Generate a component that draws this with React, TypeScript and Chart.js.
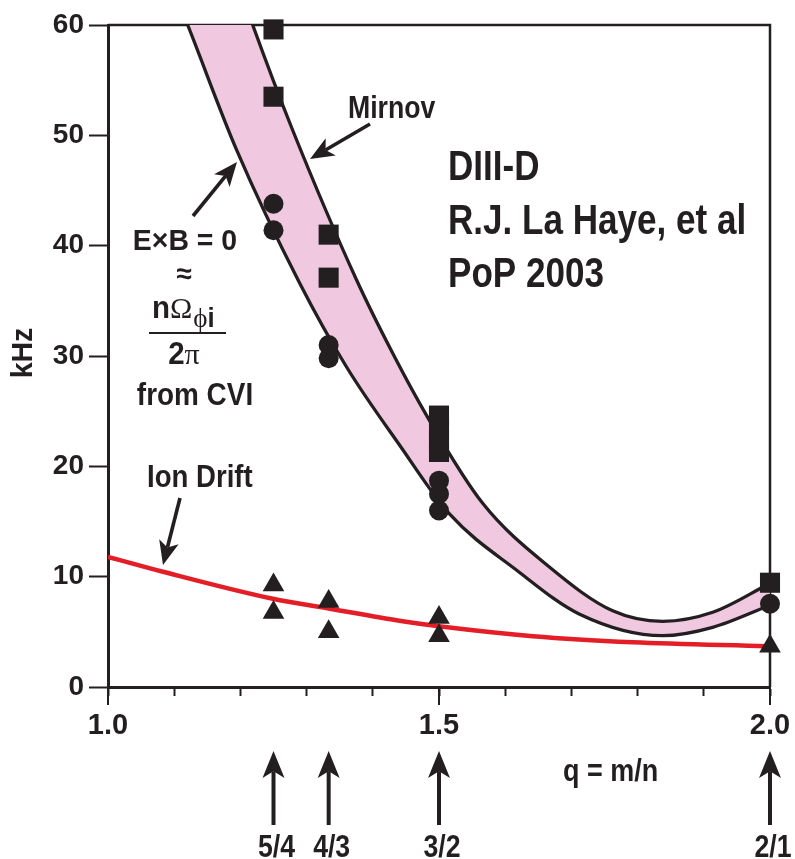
import React, { useEffect, useRef } from 'react';
import { Chart, registerables } from 'chart.js';

Chart.register(...registerables);

// ---------- data ----------
// Mirnov (upper edge of band), q and kHz (first two lie above the 60 kHz frame)
const Q_MIRNOV = [1.099, 1.158, 1.2186, 1.279, 1.3757, 1.4301, 1.4829, 1.566, 1.6672, 1.7624, 1.8379, 1.9134, 2.0];
const F_MIRNOV = [81.5, 70.5, 60.0, 50.46, 36.86, 30.24, 24.44, 16.65, 10.85, 6.9, 5.95, 6.77, 9.4];
// E x B = 0 from CVI (lower edge of band)
const Q_EXB = [1.099, 1.1204, 1.1944, 1.2896, 1.3606, 1.4406, 1.5162, 1.6174, 1.7125, 1.8379, 1.9134, 2.0];
const F_EXB = [63.2, 60.0, 48.66, 36.6, 28.98, 21.91, 15.66, 10.58, 6.59, 4.65, 5.41, 7.41];
// Ion drift (red)
const Q_ION = [1.0, 1.083, 1.249, 1.335, 1.44, 1.5, 1.642, 1.793, 1.995];
const F_ION = [11.8, 10.45, 8.0, 7.1, 6.0, 5.5, 4.6, 4.05, 3.7];
// measured points
const Q_SQUARES = [1.25, 1.25, 1.3333, 1.3333, 1.5, 1.5, 1.5, 1.5, 2.0];
const F_SQUARES = [59.6, 53.5, 41.0, 37.1, 24.6, 23.4, 22.4, 21.3, 9.45];
const Q_CIRCLES = [1.25, 1.25, 1.3333, 1.3333, 1.5, 1.5, 1.5, 2.0];
const F_CIRCLES = [43.8, 41.4, 31.0, 29.8, 18.7, 17.5, 16.0, 7.55];
const Q_TRIANGLES = [1.25, 1.25, 1.3333, 1.3333, 1.5, 1.5, 2.0];
const F_TRIANGLES = [9.25, 6.75, 7.75, 5.0, 6.3, 4.65, 3.7];
// axes
const MAJOR_Q = [1.0, 1.5, 2.0];
const MAJOR_Q_LABELS = ['1.0', '1.5', '2.0'];
const RATIONAL_Q = [1.25, 4 / 3, 1.5, 2.0];
const RATIONAL_LABELS = ['5/4', '4/3', '3/2', '2/1'];
const INFO_LINES = ['DIII-D', 'R.J. La Haye, et al', 'PoP 2003'];

// ---------- styles ----------
const INK = '#231f20';
const RED = '#e31e27';
const PINK = '#f0c9e0';
const SANS = "'Liberation Sans', Arial, sans-serif";
const SERIF = "'Liberation Serif', 'DejaVu Serif', serif";

const pts = (qs: number[], fs: number[]) => qs.map((q, i) => ({ x: q, y: fs[i] }));

function text(ctx: CanvasRenderingContext2D, s: string, x: number, y: number, size: number, align: CanvasTextAlign = 'left', k = 0.88, family = SANS, weight = 'bold') {
  ctx.save();
  ctx.font = `${weight} ${size}px ${family}`;
  ctx.textAlign = align;
  ctx.textBaseline = 'alphabetic';
  ctx.fillStyle = INK;
  ctx.translate(x, y);
  ctx.scale(k, 1);
  ctx.fillText(s, 0, 0);
  const w = ctx.measureText(s).width * k;
  ctx.restore();
  return w;
}

function arrow(ctx: CanvasRenderingContext2D, x1: number, y1: number, x2: number, y2: number, head = 24, half = 10, lw = 3.8) {
  const ang = Math.atan2(y2 - y1, x2 - x1);
  const ux = Math.cos(ang), uy = Math.sin(ang);
  const nx = -uy, ny = ux;
  const notch = head * 0.25;
  ctx.strokeStyle = INK;
  ctx.fillStyle = INK;
  ctx.lineWidth = lw;
  ctx.lineCap = 'butt';
  ctx.beginPath();
  ctx.moveTo(x1, y1);
  ctx.lineTo(x2 - ux * (head - notch), y2 - uy * (head - notch));
  ctx.stroke();
  ctx.beginPath();
  ctx.moveTo(x2, y2);
  ctx.lineTo(x2 - ux * head + nx * half, y2 - uy * head + ny * half);
  ctx.lineTo(x2 - ux * (head - notch), y2 - uy * (head - notch));
  ctx.lineTo(x2 - ux * head - nx * half, y2 - uy * head - ny * half);
  ctx.closePath();
  ctx.fill();
}

const framePlugin = {
  id: 'frame',
  beforeDatasetsDraw(chart: any) {
    const { ctx, chartArea: a } = chart;
    ctx.save();
    ctx.strokeStyle = INK;
    ctx.lineWidth = 2.5;
    ctx.beginPath();
    ctx.moveTo(a.left, a.top);
    ctx.lineTo(a.right, a.top);
    ctx.lineTo(a.right, a.bottom);
    ctx.stroke();
    ctx.restore();
  },
};

const annotationPlugin = {
  id: 'annotations',
  afterDraw(chart: any) {
    const { ctx, chartArea: a } = chart;
    const xs = chart.scales.x;
    ctx.save();
    // longer ticks at labelled q values
    ctx.strokeStyle = INK;
    ctx.lineWidth = 2;
    for (const v of MAJOR_Q) {
      const px = xs.getPixelForValue(v);
      ctx.beginPath();
      ctx.moveTo(px, a.bottom);
      ctx.lineTo(px, a.bottom + 18);
      ctx.stroke();
    }

    // y-axis title
    ctx.save();
    ctx.translate(32, 353);
    ctx.rotate(-Math.PI / 2);
    text(ctx, 'kHz', 0, 0, 30, 'center', 0.95);
    ctx.restore();

    // x-axis title
    text(ctx, 'q = m/n', 563, 781, 31, 'left', 0.87);

    // rational surfaces arrows
    RATIONAL_Q.forEach((q, i) => {
      const px = xs.getPixelForValue(q);
      arrow(ctx, px, a.bottom + 138, px, a.bottom + 64, 27, 11, 4);
      text(ctx, RATIONAL_LABELS[i], px + 3, 857, 31, 'center', 0.86);
    });

    // Mirnov
    text(ctx, 'Mirnov', 348, 118, 31, 'left', 0.86);
    arrow(ctx, 370, 124, 310, 159, 24, 10, 3.6);

    // E x B = 0
    arrow(ctx, 193, 216, 237, 162, 24, 10, 3.6);
    text(ctx, 'E\u00d7B = 0', 185, 250, 29, 'center', 0.98);
    text(ctx, '\u2248', 184, 283, 28, 'center', 1, SANS, 'bold');
    // n Omega_phi_i
    let cx = 152;
    cx += text(ctx, 'n', cx, 318, 31, 'left', 0.95);
    cx += text(ctx, '\u03a9', cx, 318, 30, 'left', 1, SERIF, 'normal');
    cx += text(ctx, '\u03d5', cx + 1, 327, 27, 'left', 1, SERIF, 'normal');
    text(ctx, 'i', cx + 1, 327, 27, 'left', 0.95);
    ctx.strokeStyle = INK;
    ctx.lineWidth = 2;
    ctx.beginPath();
    ctx.moveTo(149, 333);
    ctx.lineTo(226, 333);
    ctx.stroke();
    ctx.font = `bold 31px ${SANS}`;
    const w2 = ctx.measureText('2').width * 0.95;
    ctx.font = `normal 30px ${SERIF}`;
    const wpi = ctx.measureText('\u03c0').width;
    const sx = 184 - (w2 + wpi) / 2;
    text(ctx, '2', sx, 364, 31, 'left', 0.95);
    text(ctx, '\u03c0', sx + w2, 364, 30, 'left', 1, SERIF, 'normal');
    text(ctx, 'from CVI', 195, 405, 31, 'center', 0.9);

    // Ion drift
    text(ctx, 'Ion Drift', 147, 487, 31, 'left', 0.89);
    arrow(ctx, 180, 498, 163, 565, 24, 10, 3.6);

    // info
    INFO_LINES.forEach((s, i) => text(ctx, s, 448, 180 + i * 53.5, 42, 'left', 0.835));

    ctx.restore();
  },
};

export default function App() {
  const ref = useRef<HTMLCanvasElement | null>(null);

  useEffect(() => {
    document.body.style.margin = '0';
    const canvas = ref.current;
    if (!canvas) return;
    const markerBase = { showLine: false, clip: false as any, pointBorderWidth: 0, pointBackgroundColor: INK, pointBorderColor: INK };
    const curveBase = { pointRadius: 0, cubicInterpolationMode: 'monotone', borderJoinStyle: 'round' };
    const chart = new Chart(canvas, {
      type: 'line',
      data: {
        datasets: [
          { ...markerBase, label: 'Mirnov', data: pts(Q_SQUARES, F_SQUARES), pointStyle: 'rect', pointRadius: 14.2 },
          { ...markerBase, label: 'CVI', data: pts(Q_CIRCLES, F_CIRCLES), pointStyle: 'circle', pointRadius: 10 },
          { ...markerBase, label: 'Ion', data: pts(Q_TRIANGLES, F_TRIANGLES), pointStyle: 'triangle', pointRadius: 12.5 },
          { ...curveBase, label: 'Ion Drift', data: pts(Q_ION, F_ION), borderColor: RED, borderWidth: 4.5, fill: false },
          { ...curveBase, label: 'Mirnov fit', data: pts(Q_MIRNOV, F_MIRNOV), borderColor: INK, borderWidth: 3.3, fill: false },
          { ...curveBase, label: 'ExB fit', data: pts(Q_EXB, F_EXB), borderColor: INK, borderWidth: 3.3, backgroundColor: PINK, fill: { target: 4 } },
        ] as any,
      },
      options: {
        responsive: false,
        devicePixelRatio: 1,
        animation: false,
        events: [],
        layout: { padding: { left: 0, top: 25, right: 25, bottom: 0 } },
        plugins: { legend: { display: false }, tooltip: { enabled: false }, title: { display: false } },
        scales: {
          x: {
            type: 'linear',
            min: 1.0,
            max: 2.0,
            afterFit: (s: any) => { s.height = 172; s.paddingLeft = 0; s.paddingRight = 0; },
            ticks: {
              stepSize: 0.1,
              autoSkip: false,
              maxRotation: 0,
              padding: 13,
              color: INK,
              font: { family: SANS, size: 29, weight: 'bold' },
              callback: (v: any) => {
                const i = MAJOR_Q.findIndex((m) => Math.abs(m - Number(v)) < 1e-6);
                return i >= 0 ? MAJOR_Q_LABELS[i] : '';
              },
            },
            grid: { drawOnChartArea: false, drawTicks: true, tickLength: 9, tickWidth: 2, tickColor: INK },
            border: { display: true, color: INK, width: 3 },
          },
          y: {
            type: 'linear',
            min: 0,
            max: 60,
            afterFit: (s: any) => { s.width = 108; s.paddingTop = 0; s.paddingBottom = 0; },
            ticks: {
              stepSize: 10,
              padding: 5,
              color: INK,
              font: { family: SANS, size: 28, weight: 'bold' },
            },
            grid: { drawOnChartArea: false, drawTicks: true, tickLength: 19, tickWidth: 2, tickColor: INK },
            border: { display: true, color: INK, width: 3 },
          },
        },
      } as any,
      plugins: [framePlugin, annotationPlugin],
    });
    return () => chart.destroy();
  }, []);

  return (
    <div style={{ width: 795, height: 859, background: '#fff' }}>
      <canvas ref={ref} width={795} height={859} style={{ display: 'block' }} />
    </div>
  );
}
